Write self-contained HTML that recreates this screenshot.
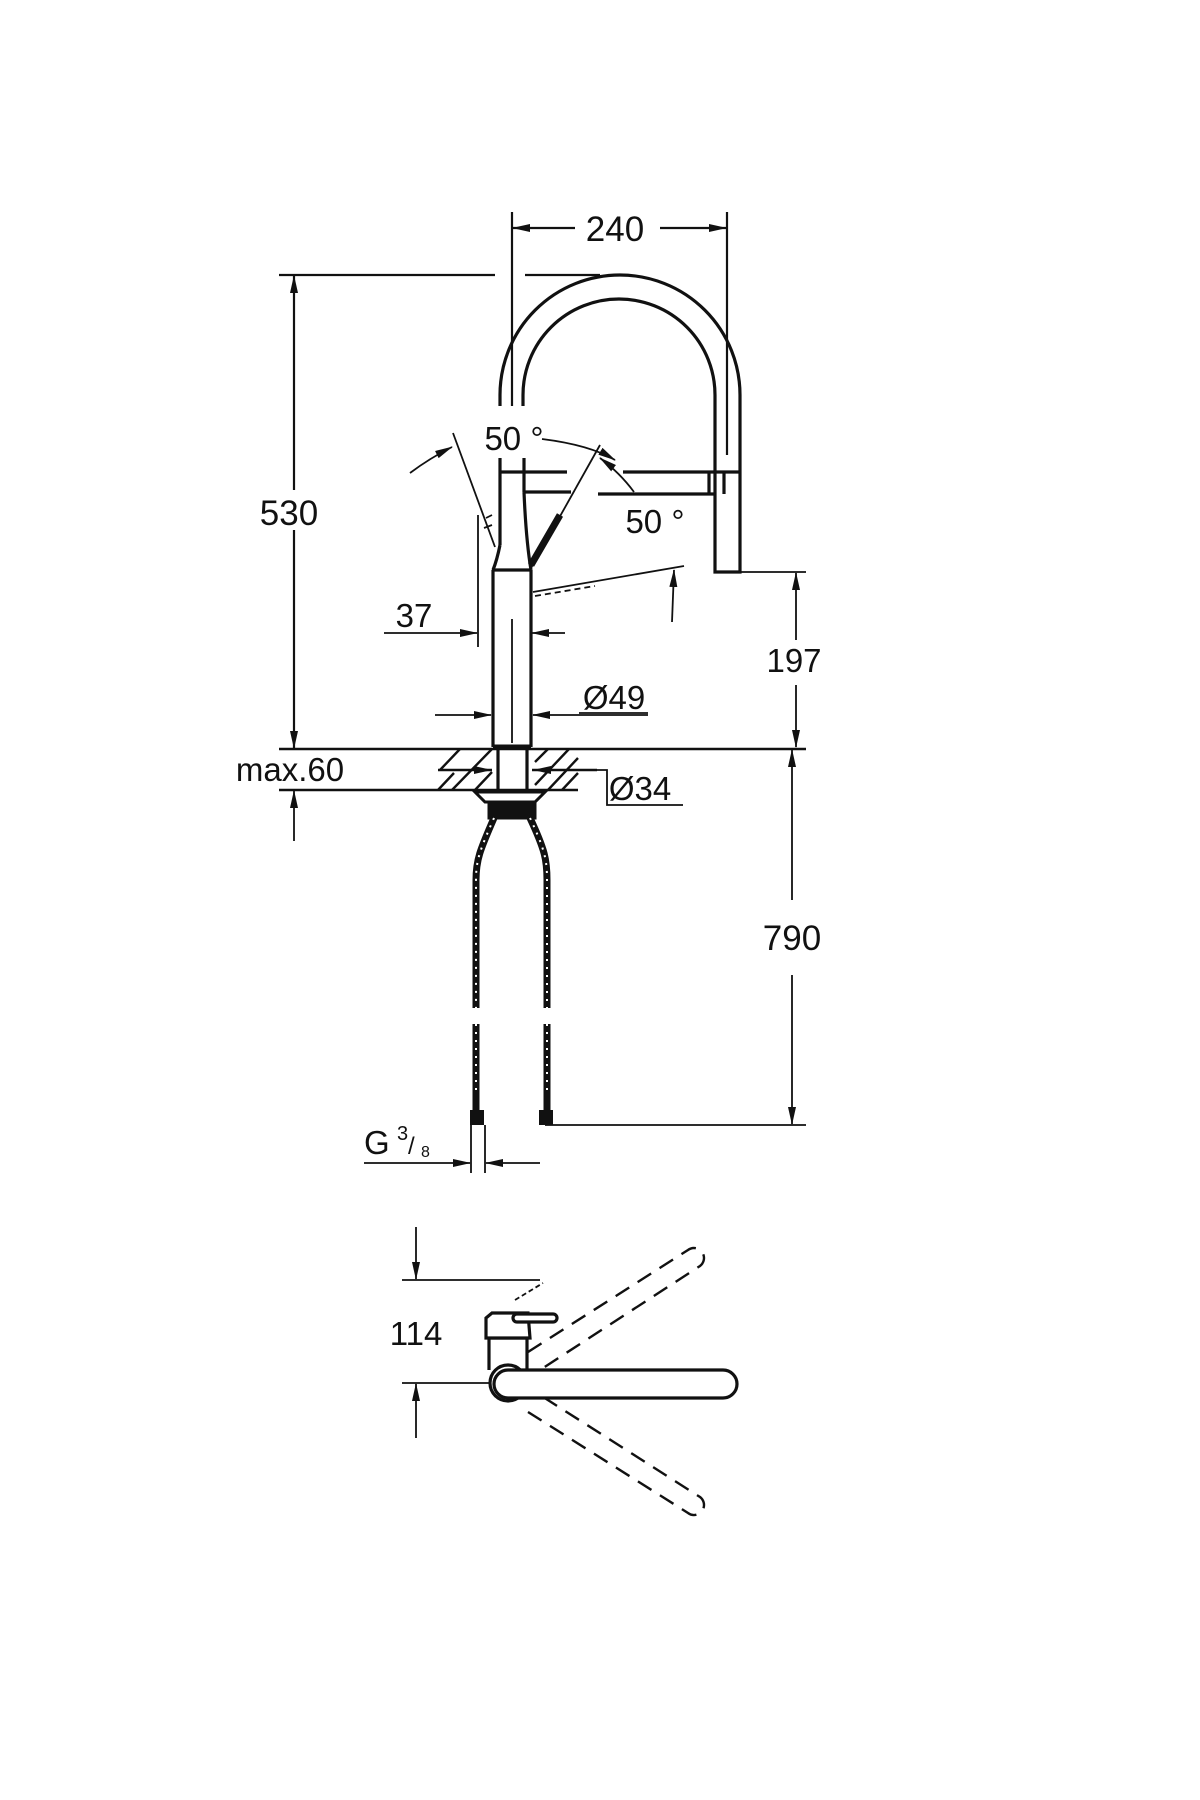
<!DOCTYPE html>
<html><head><meta charset="utf-8"><style>
html,body{margin:0;padding:0;background:#fff}
svg{display:block}
text{font-family:"Liberation Sans",sans-serif;fill:#111}
</style></head><body>
<svg width="1200" height="1800" viewBox="0 0 1200 1800" xmlns="http://www.w3.org/2000/svg">
<defs>
<marker id="a" markerWidth="18" markerHeight="8" refX="17" refY="4" orient="auto" markerUnits="userSpaceOnUse">
<path d="M0,0 L18,4 L0,8 z" fill="#111"/></marker>
</defs>
<g stroke="#111" fill="none" stroke-width="2.2">
<line x1="512" y1="212" x2="512" y2="406"/>
<line x1="727" y1="212" x2="727" y2="455"/>
<line x1="575" y1="228" x2="513" y2="228" marker-end="url(#a)"/>
<line x1="660" y1="228" x2="726" y2="228" marker-end="url(#a)"/>
<line x1="279" y1="275" x2="495" y2="275"/>
<line x1="525" y1="275" x2="600" y2="275"/>
<line x1="294" y1="490" x2="294" y2="276" marker-end="url(#a)"/>
<line x1="294" y1="530" x2="294" y2="748" marker-end="url(#a)"/>
</g>
<g stroke="#111" fill="none" stroke-width="3.2">
<path d="M500,406 L500,395 A120,120 0 0 1 740,395 L740,572 L715,572 L715,395 A96,96 0 0 0 523,395 L523,406"/>
<line x1="500" y1="458" x2="500" y2="545"/>
<line x1="524" y1="458" x2="524" y2="492"/>
<line x1="501" y1="472" x2="567" y2="472"/>
<line x1="524" y1="492" x2="571" y2="492"/>
<line x1="623" y1="472" x2="740" y2="472"/>
<line x1="598" y1="494" x2="715" y2="494"/>
<path d="M500,545 Q497,560 493,570"/>
<path d="M524,492 Q526,540 531,570"/>
<line x1="492" y1="570" x2="531" y2="570"/>
<line x1="493" y1="570" x2="493" y2="747"/>
<line x1="531" y1="570" x2="531" y2="747"/>
<line x1="709" y1="472" x2="709" y2="494"/>
<line x1="724" y1="472" x2="724" y2="494"/>
<line x1="493" y1="747" x2="531" y2="747" stroke-width="5"/>
<line x1="498" y1="749" x2="498" y2="790"/>
<line x1="527" y1="749" x2="527" y2="790"/>
<path d="M531,565 L560,515" stroke-width="7"/>
</g>
<g stroke="#111" fill="none" stroke-width="1.8">
<line x1="453" y1="433" x2="495" y2="547"/>
<path d="M410,473 Q430,458 452,447" marker-end="url(#a)"/>
<path d="M486,518 l6,-3 M484,528 l8,-3" />
<line x1="600" y1="445" x2="531" y2="568"/>
<path d="M542,439 Q590,445 615,460" marker-end="url(#a)"/>
<path d="M634,492 Q620,473 600,458" marker-end="url(#a)"/>
<line x1="533" y1="592" x2="684" y2="566"/>
<path d="M535,596 l60,-10" stroke-dasharray="6 4"/>
<line x1="672" y1="622" x2="674" y2="570" marker-end="url(#a)"/>
<line x1="740" y1="572" x2="806" y2="572"/>
<line x1="796" y1="640" x2="796" y2="573" marker-end="url(#a)"/>
<line x1="796" y1="685" x2="796" y2="747" marker-end="url(#a)"/>
<line x1="478" y1="515" x2="478" y2="647"/>
<line x1="384" y1="633" x2="477" y2="633" marker-end="url(#a)"/>
<line x1="565" y1="633" x2="532" y2="633" marker-end="url(#a)"/>
<line x1="512" y1="619" x2="512" y2="743"/>
<line x1="435" y1="715" x2="491" y2="715" marker-end="url(#a)"/>
<line x1="648" y1="715" x2="533" y2="715" marker-end="url(#a)"/>
<line x1="579" y1="713" x2="648" y2="713"/>
</g>
<g stroke="#111" fill="none" stroke-width="2.4">
<line x1="279" y1="749" x2="806" y2="749"/>
<line x1="279" y1="790" x2="578" y2="790"/>
<line x1="438" y1="770" x2="492" y2="770"/>
<line x1="532" y1="770" x2="597" y2="770"/>
<path d="M440,770 l20,-21 M452,790 l40,-41 M475,790 l17,-18 M438,790 l16,-17 M535,785 l34,-36 M548,790 l30,-32 M535,762 l13,-13 M562,790 l16,-17"/>
</g>
<g stroke="#111" fill="none" stroke-width="1.8">
<line x1="455" y1="770" x2="491" y2="770" marker-end="url(#a)"/>
<line x1="570" y1="770" x2="534" y2="770" marker-end="url(#a)"/>
<path d="M597,770 L607,770 L607,805 L683,805"/>
<line x1="294" y1="841" x2="294" y2="791" marker-end="url(#a)"/>
<line x1="792" y1="900" x2="792" y2="750" marker-end="url(#a)"/>
<line x1="792" y1="975" x2="792" y2="1124" marker-end="url(#a)"/>
<line x1="545" y1="1125" x2="806" y2="1125"/>
<line x1="471" y1="1125" x2="471" y2="1173"/>
<line x1="485" y1="1125" x2="485" y2="1173"/>
<line x1="364" y1="1163" x2="470" y2="1163" marker-end="url(#a)"/>
<line x1="540" y1="1163" x2="486" y2="1163" marker-end="url(#a)"/>
</g>
<g stroke="#111" fill="none" stroke-width="3">
<path d="M475,792 L545,792 L535,802 L485,802 Z"/>
<rect x="489" y="804" width="46" height="14" fill="#111"/>
</g>
<g stroke="#111" fill="none" stroke-width="7">
<path d="M494,818 C480,850 476,860 476,880 L476,1008"/>
<path d="M476,1024 L476,1110"/>
<path d="M530,818 C545,850 547,860 547,880 L547,1008"/>
<path d="M547,1024 L547,1110"/>
</g>
<g stroke="#fff" fill="none" stroke-width="2" stroke-dasharray="2 6">
<path d="M494,818 C480,850 476,860 476,880 L476,1008"/>
<path d="M476,1024 L476,1090"/>
<path d="M530,818 C545,850 547,860 547,880 L547,1008"/>
<path d="M547,1024 L547,1090"/>
</g>
<rect x="470" y="1110" width="14" height="15" fill="#111"/>
<rect x="539" y="1110" width="14" height="15" fill="#111"/>
<g stroke="#111" fill="none" stroke-width="1.8">
<line x1="402" y1="1280" x2="540" y2="1280"/>
<line x1="416" y1="1227" x2="416" y2="1279" marker-end="url(#a)"/>
<line x1="402" y1="1383" x2="510" y2="1383"/>
<line x1="416" y1="1438" x2="416" y2="1384" marker-end="url(#a)"/>
<path d="M515,1300 L543,1283" stroke-dasharray="5 3"/>
</g>
<g stroke="#111" fill="none" stroke-width="2.4" stroke-dasharray="16 10">
<path d="M528,1352 L688,1250 A10,10 0 0 1 700,1266 L540,1370"/>
<path d="M528,1412 L688,1513 A10,10 0 0 0 700,1497 L540,1395"/>
</g>
<g stroke="#111" fill="#fff" stroke-width="3.2">
<path d="M489,1370 L489,1338 L527,1338 L527,1370"/>
<path d="M486,1338 L486,1318 L492,1313 L528,1313 L530,1338 Z"/>
<rect x="513" y="1314" width="44" height="8" rx="4"/>
<circle cx="508" cy="1383" r="18"/>
<rect x="494" y="1370" width="243" height="28" rx="14"/>
</g>
<text x="615" y="241" font-size="35" text-anchor="middle">240</text>
<text x="289" y="525" font-size="35" text-anchor="middle">530</text>
<text x="514" y="450" font-size="33" text-anchor="middle">50 °</text>
<text x="655" y="533" font-size="33" text-anchor="middle">50 °</text>
<text x="414" y="627" font-size="33" text-anchor="middle">37</text>
<text x="794" y="672" font-size="33" text-anchor="middle">197</text>
<text x="614" y="709" font-size="33" text-anchor="middle">Ø49</text>
<text x="290" y="781" font-size="33" text-anchor="middle">max.60</text>
<text x="640" y="800" font-size="33" text-anchor="middle">Ø34</text>
<text x="792" y="950" font-size="35" text-anchor="middle">790</text>
<text x="364" y="1154" font-size="33">G</text>
<text x="397" y="1140" font-size="20">3</text>
<text x="408" y="1154" font-size="24">/</text>
<text x="421" y="1157" font-size="16">8</text>
<text x="416" y="1345" font-size="33" text-anchor="middle">114</text>
</svg>
</body></html>
